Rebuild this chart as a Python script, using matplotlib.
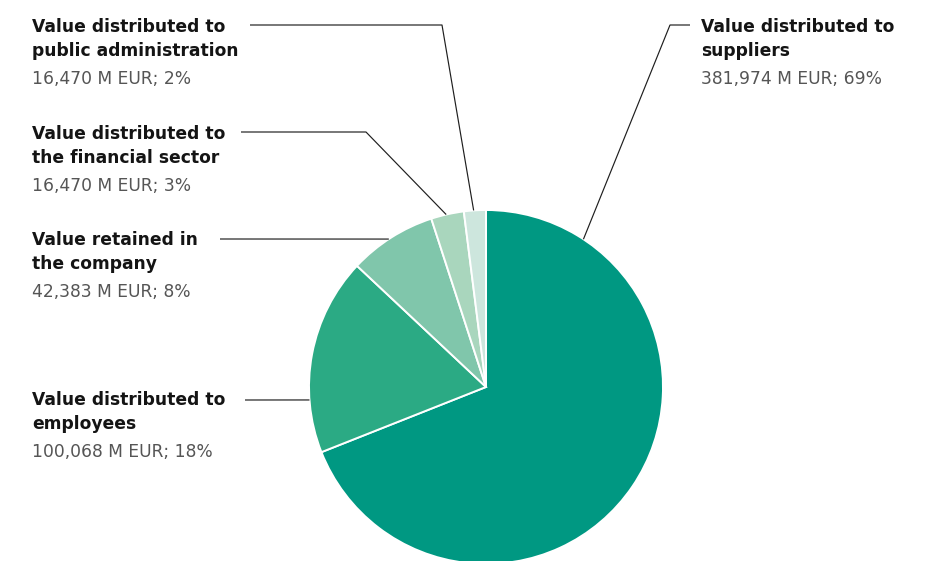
import numpy as np
import matplotlib
matplotlib.use("Agg")
import matplotlib.pyplot as plt

# Economic value distribution (M EUR and share of total)
labels = [
    "Value distributed to\nsuppliers",
    "Value distributed to\nemployees",
    "Value retained in\nthe company",
    "Value distributed to\nthe financial sector",
    "Value distributed to\npublic administration",
]
amounts = ["381,974", "100,068", "42,383", "16,470", "16,470"]
shares = [69, 18, 8, 3, 2]
colors = ["#009882", "#2BAA84", "#80C6AB", "#A9D6BD", "#CDE6DD"]

# ── Layout (pixel space, y measured from top) ───────────────
W, H = 936, 561
CENTER = (486, 387)
RADIUS = 177
# first-line baseline of each label block, and text x
text_pos = [(701, 31.5), (32, 405), (32, 245), (32, 138.5), (32, 31.5)]
# leader: angle where it meets the pie, then the path back to the label
anchor_deg = [56.6, 184.2, 123.3, 103.0, 94.0]
leader_path = [
    [(670, 25), (690, 25)],
    [(245, 400)],
    [(220, 239)],
    [(366, 132), (241, 132)],
    [(442, 25), (250, 25)],
]

LINE_GAP = 24
VALUE_GAP = 28
FS = 12.3


def fy(y):
    return H - y


fig = plt.figure(figsize=(W / 100, H / 100), dpi=100)
ax = fig.add_axes([0, 0, 1, 1])

ax.pie(
    shares,
    colors=colors,
    startangle=90,
    counterclock=False,
    center=(CENTER[0], fy(CENTER[1])),
    radius=RADIUS,
    wedgeprops=dict(edgecolor="white", linewidth=1.4),
    frame=True,
)
ax.set_xlim(0, W)
ax.set_ylim(0, H)
ax.set_aspect("equal")
ax.axis("off")

for i in range(len(shares)):
    # leader line from the pie edge to the label
    a = np.radians(anchor_deg[i])
    edge_pt = (CENTER[0] + RADIUS * np.cos(a), CENTER[1] - RADIUS * np.sin(a))
    pts = [edge_pt] + leader_path[i]
    ax.plot([p[0] for p in pts], [fy(p[1]) for p in pts],
            color="#1e1e1e", linewidth=0.85, solid_capstyle="butt")

    # label block: bold title lines, then the grey value line
    x, y0 = text_pos[i]
    lines = labels[i].split("\n")
    for j, line in enumerate(lines):
        ax.text(x, fy(y0 + j * LINE_GAP), line, fontsize=FS,
                fontweight="bold", color="#141414", va="baseline", ha="left")
    ax.text(x, fy(y0 + (len(lines) - 1) * LINE_GAP + VALUE_GAP),
            f"{amounts[i]} M EUR; {shares[i]}%", fontsize=FS,
            color="#555555", va="baseline", ha="left")

fig.savefig("out.png", dpi=100, facecolor="white")
